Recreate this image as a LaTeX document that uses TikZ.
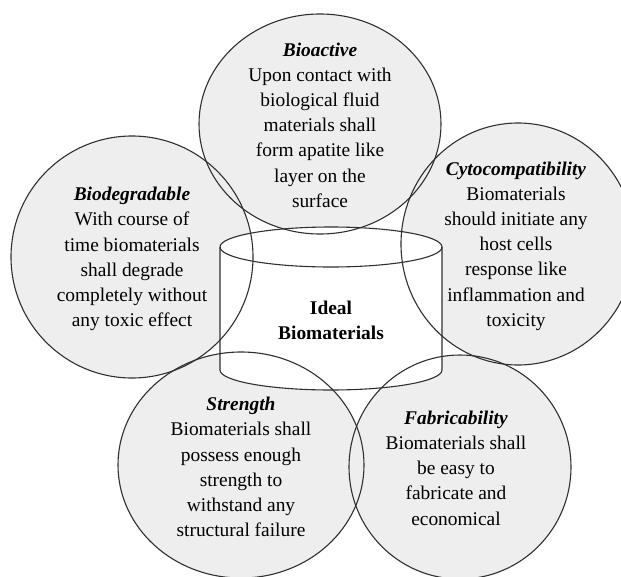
\documentclass[tikz,border=0pt]{standalone}
\usepackage{fontspec}
\setmainfont{Liberation Serif}
\definecolor{bubblegray}{HTML}{EEEEEE}
\definecolor{linegray}{HTML}{303030}
\tikzset{
  bubble/.style={fill=bubblegray},
  rim/.style={draw=linegray, line width=1.1pt},
  blurb/.style={align=center, inner sep=0pt, font=\fontsize{19.4}{25.2}\selectfont},
}
\newcommand{\heading}[1]{\textbf{\textit{#1}}}

\begin{document}
\begin{tikzpicture}[x=1pt,y=-1pt] % one unit is one pixel of the figure, y runs down
    \useasboundingbox (0,0) rectangle (621,576);
    \clip (0,0) rectangle (621,576);

    % Centres of the five property circles
    \coordinate (bioact) at (320,124);
    \coordinate (biodeg) at (132,257);
    \coordinate (cyto) at (518,244);
    \coordinate (strength) at (241,465);
    \coordinate (fabric) at (460,467);

    % Grey discs
    \fill[bubble] (bioact) ellipse [x radius=121, y radius=110];
    \fill[bubble] (biodeg) ellipse [x radius=121, y radius=121];
    \fill[bubble] (cyto) ellipse [x radius=117, y radius=121];
    \fill[bubble] (strength) ellipse [x radius=123, y radius=113];
    \fill[bubble] (fabric) ellipse [x radius=111, y radius=112];

    % Cylinder in the middle
    \fill[white] (220,247) -- (220,370)
        arc [start angle=180, end angle=0, x radius=111, y radius=20] -- (442,247)
        arc [start angle=0, end angle=-180, x radius=111, y radius=20] -- cycle;
    \draw[rim] (331,247) ellipse [x radius=111, y radius=20];
    \draw[rim] (220,247) -- (220,370)
        arc [start angle=180, end angle=0, x radius=111, y radius=20] -- (442,247);

    % Outlines of the discs over the cylinder
    \draw[rim] (bioact) ellipse [x radius=121, y radius=110];
    \draw[rim] (biodeg) ellipse [x radius=121, y radius=121];
    \draw[rim] (cyto) ellipse [x radius=117, y radius=121];
    \draw[rim] (strength) ellipse [x radius=123, y radius=113];
    \draw[rim] (fabric) ellipse [x radius=111, y radius=112];

    % Texts
    \node[blurb] (bioacttext) at (320,125) {\heading{Bioactive}\\Upon contact with\\biological fluid\\materials shall\\form apatite like\\layer on the\\surface};
    \node[blurb] (biodegtext) at (132,259) {\heading{Biodegradable}\\With course of\\time biomaterials\\shall degrade\\completely without\\any toxic effect};
    \node[blurb] (cytotext) at (516,246) {\heading{Cytocompatibility}\\Biomaterials\\should initiate any\\host cells\\response like\\inflammation and\\toxicity};
    \node[blurb] (strengthtext) at (241,467) {\heading{Strength}\\Biomaterials shall\\possess enough\\strength to\\withstand any\\structural failure};
    \node[blurb] (fabrictext) at (456,468) {\heading{Fabricability}\\Biomaterials shall\\be easy to\\fabricate and\\economical};
    \node[blurb, font=\fontsize{19.4}{25.2}\selectfont\bfseries] (ideal) at (331,320) {Ideal\\Biomaterials};
\end{tikzpicture}
\end{document}
